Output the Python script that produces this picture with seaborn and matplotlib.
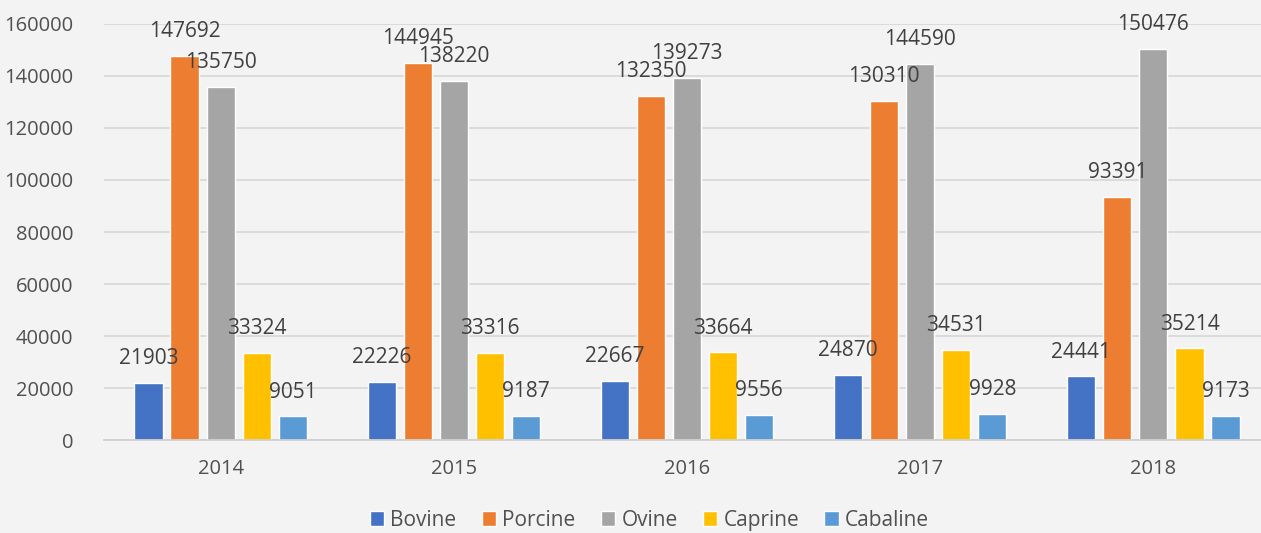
import pandas as pd
import seaborn as sns
import matplotlib.pyplot as plt

# Data
years = ["2014", "2015", "2016", "2017", "2018"]
species = ["Bovine", "Porcine", "Ovine", "Caprine", "Cabaline"]
bovine = [21903, 22226, 22667, 24870, 24441]
porcine = [147692, 144945, 132350, 130310, 93391]
ovine = [135750, 138220, 139273, 144590, 150476]
caprine = [33324, 33316, 33664, 34531, 35214]
cabaline = [9051, 9187, 9556, 9928, 9173]
yticks = [0, 20000, 40000, 60000, 80000, 100000, 120000, 140000, 160000]

colors = ["#4472C4", "#ED7D31", "#A5A5A5", "#FFC000", "#5B9BD5"]
text_color = "#505050"


def plot_chart():
    # long format table for seaborn
    rows = []
    for name, vals in zip(species, [bovine, porcine, ovine, caprine, cabaline]):
        for y, v in zip(years, vals):
            rows.append({"year": y, "species": name, "value": v})
    df = pd.DataFrame(rows)

    sns.set_theme(style="white")
    plt.rcParams["font.family"] = ["Open Sans", "DejaVu Sans"]

    fig = plt.figure(figsize=(12.61, 5.33), dpi=100, facecolor="#f3f3f3")
    ax = fig.add_axes([104 / 1261, 93 / 533, 1166 / 1261, 416 / 533])
    ax.set_facecolor("none")

    sns.barplot(data=df, x="year", y="value", hue="species", order=years,
                hue_order=species, palette=colors, width=0.773, gap=0.22,
                saturation=1, ax=ax, legend=True)

    # value labels above each bar
    for cont in ax.containers:
        ax.bar_label(cont, fmt="%d", padding=10, fontsize=15, color="#404040")

    ax.set_ylim(0, 160000)
    ax.set_yticks(yticks)
    ax.set_yticklabels([str(t) for t in yticks])
    ax.yaxis.grid(True, color="#d9d9d9", linewidth=1.3)
    ax.set_axisbelow(True)
    ax.tick_params(axis="both", length=0, labelsize=14.5, labelcolor=text_color)
    ax.tick_params(axis="y", pad=22)
    ax.tick_params(axis="x", pad=14)
    ax.set_xlabel("")
    ax.set_ylabel("")
    for s in ["top", "right", "left"]:
        ax.spines[s].set_visible(False)
    ax.spines["bottom"].set_color("#d0d0d0")
    ax.spines["bottom"].set_linewidth(1.3)

    handles, labels = ax.get_legend_handles_labels()
    ax.get_legend().remove()
    fig.legend(handles, labels, loc="center", bbox_to_anchor=(0.515, 0.024),
               ncol=5, frameon=False, fontsize=15, labelcolor=text_color,
               handlelength=0.7, handleheight=0.7, handletextpad=0.3,
               columnspacing=1.2)

    fig.savefig("out.png", dpi=100, facecolor=fig.get_facecolor())


if __name__ == "__main__":
    plot_chart()
